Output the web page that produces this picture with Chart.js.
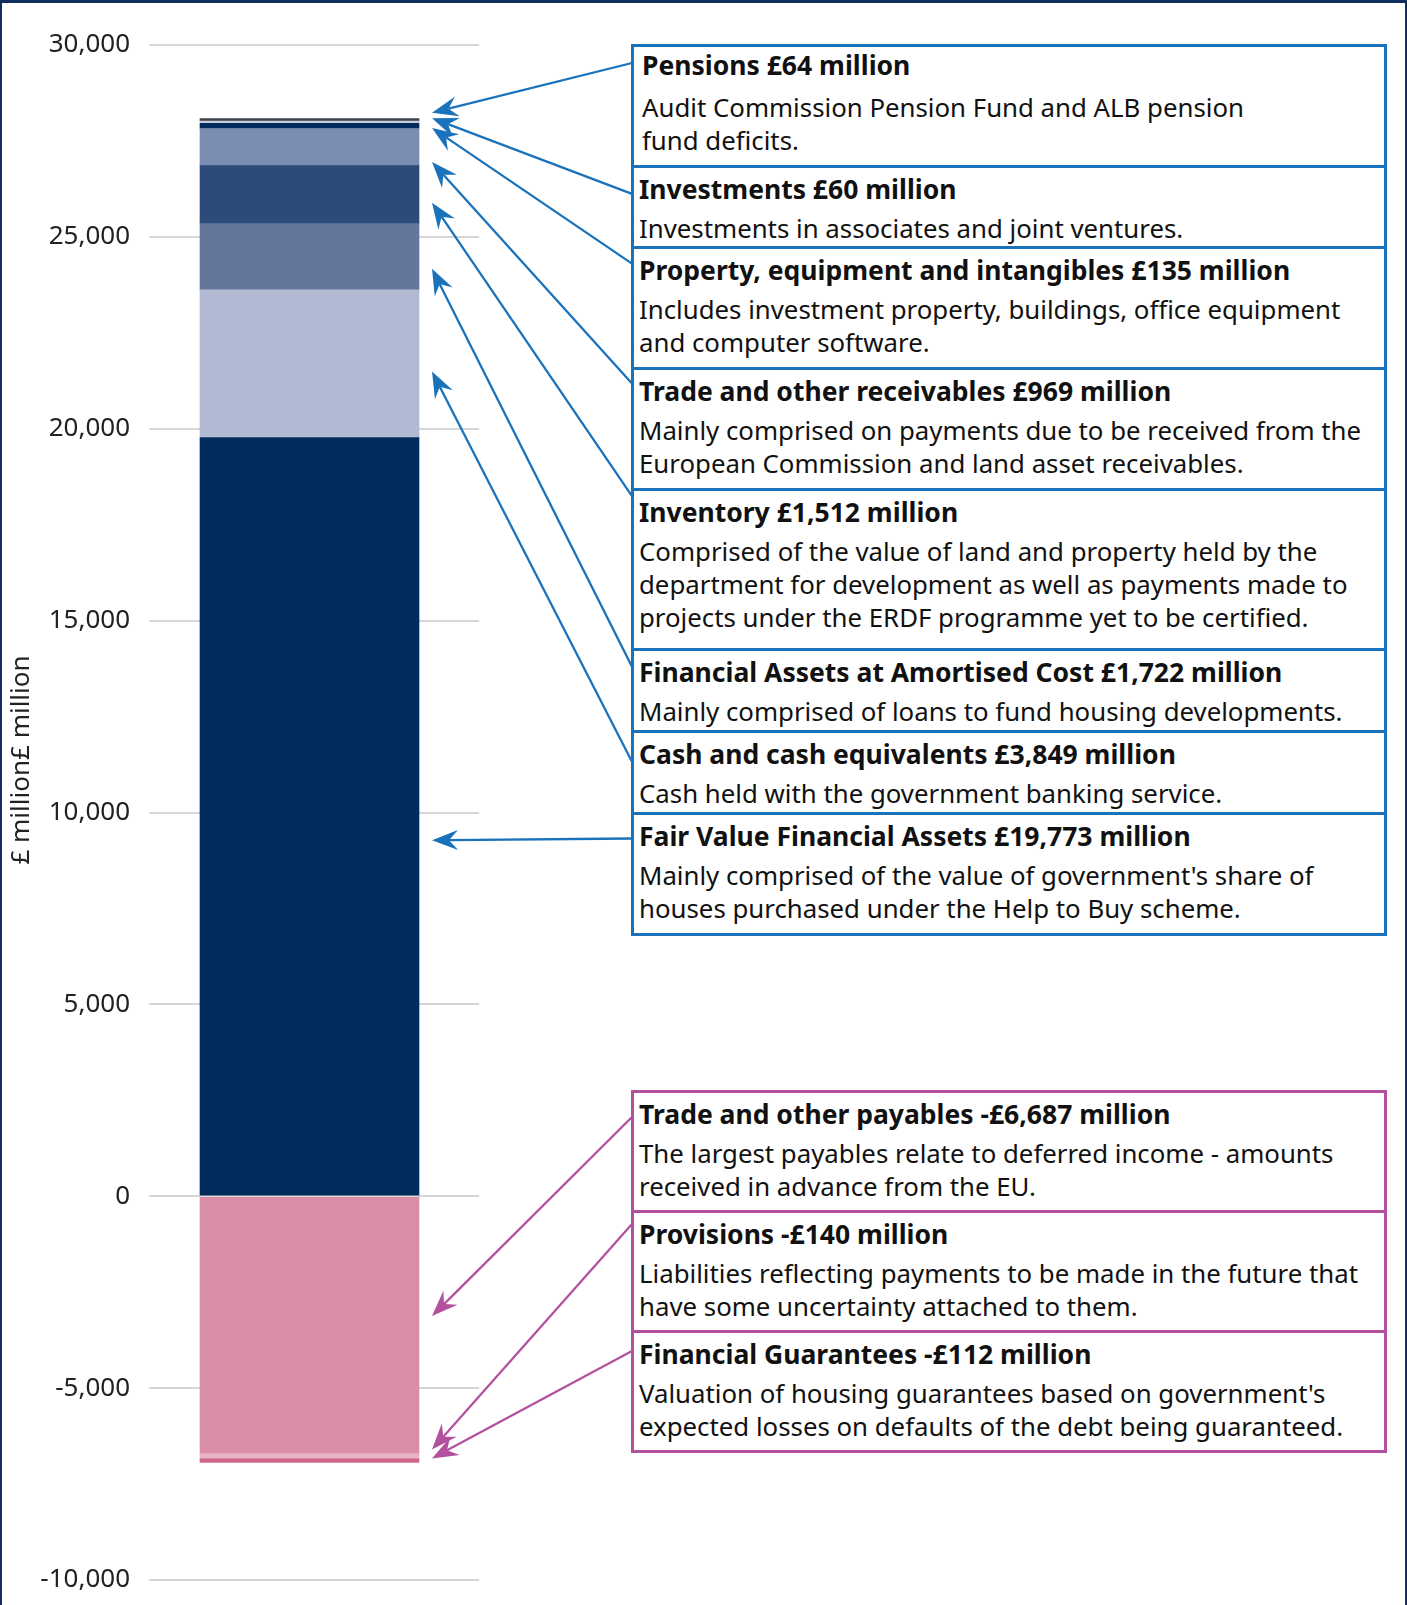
<!DOCTYPE html>
<html>
<head>
<meta charset="utf-8">
<script src="https://cdn.jsdelivr.net/npm/chart.js@4.4.1/dist/chart.umd.min.js"></script>
<style>
    html, body { margin: 0; padding: 0; background: #fff; }
    #wrap { position: relative; width: 1407px; height: 1605px; overflow: hidden; font-family: "Noto Sans", sans-serif; }
    #chart { position: absolute; left: 0; top: 0; }
    #frame { position: absolute; left: 0; top: 0; width: 1407px; height: 1605px; box-sizing: border-box;
             border: solid #102e5e; border-width: 3px 2px 0 2px; pointer-events: none; }
    .box { position: absolute; left: 631px; width: 756px; box-sizing: border-box; border: 3px solid;
           padding: 5px 4px 0 5px; color: #111; white-space: nowrap; background: #fff; }
    .box .t { font-weight: 700; font-size: 26.5px; line-height: 33px; margin-bottom: 6px; }
    .box .d { font-size: 25.8px; line-height: 33px; }
    .box.first { padding-top: 2px; padding-left: 8px; }
    .box.first .t { margin-bottom: 9px; }
</style>
</head>
<body>
<div id="wrap">
    <canvas id="chart" width="1407" height="1605"></canvas>
    <div id="boxes"></div>
    <div id="frame"></div>
</div>
<script>
// --- DATA (£ million) ---
const assetNames = ['Fair Value Financial Assets', 'Cash and cash equivalents', 'Financial Assets at Amortised Cost',
    'Inventory', 'Trade and other receivables', 'Property, equipment and intangibles', 'Investments', 'Pensions'];
const assetValues = [19773, 3849, 1722, 1512, 969, 135, 60, 64];
const liabilityNames = ['Trade and other payables', 'Provisions', 'Financial Guarantees'];
const liabilityValues = [-6687, -140, -112];
const yTicks = [-10000, -5000, 0, 5000, 10000, 15000, 20000, 25000, 30000];
const yTitle = '£ million£ million';

const assetNotes = [
    ["Mainly comprised of the value of government's share of", 'houses purchased under the Help to Buy scheme.'],
    ['Cash held with the government banking service.'],
    ['Mainly comprised of loans to fund housing developments.'],
    ['Comprised of the value of land and property held by the', 'department for development as well as payments made to', 'projects under the ERDF programme yet to be certified.'],
    ['Mainly comprised on payments due to be received from the', 'European Commission and land asset receivables.'],
    ['Includes investment property, buildings, office equipment', 'and computer software.'],
    ['Investments in associates and joint ventures.'],
    ['Audit Commission Pension Fund and ALB pension', 'fund deficits.']
];
const liabilityNotes = [
    ['The largest payables relate to deferred income - amounts', 'received in advance from the EU.'],
    ['Liabilities reflecting payments to be made in the future that', 'have some uncertainty attached to them.'],
    ["Valuation of housing guarantees based on government's", 'expected losses on defaults of the debt being guaranteed.']
];

// --- ESTILO / LAYOUT ---
const assetColors = ['#002b5c', '#b1b9d3', '#64769b', '#2c4b78', '#7a8caf', '#00295c', '#c6cbd7', '#3c424d'];
const liabilityColors = ['#d98ea5', '#e8b4c4', '#cf668c'];
const BLUE = '#1a72bb';
const PINK = '#b4519e';
const BOX_LEFT = 632;
const ARROW_GAP = 13;

// caixas de cima pra baixo: [dataset, topo, inicio da seta (dy), ajuste da ponta (dy)]
const blueBoxes = [
    [7, 45, 18, -7], [6, 166.8, 27, -4], [5, 247.6, 16, 2], [4, 368.4, 15, 15],
    [3, 489.1, 7, 8], [2, 649.8, 17, 12], [1, 731.7, 30, 8], [0, 813.5, 25, 24]
];
const blueEnd = 934.3;
const pinkBoxes = [[8, 1091, 26, -9], [9, 1211, 13, -6], [10, 1331, 20, -2]];
const pinkEnd = 1451;

const fmtMoney = v => (v < 0 ? '-' : '') + '£' + Math.abs(v).toLocaleString('en-GB') + ' million';

const datasets = [];
assetNames.forEach((n, i) => datasets.push({ label: n, data: [{ x: 0, y: assetValues[i] }], backgroundColor: assetColors[i], note: assetNotes[i] }));
liabilityNames.forEach((n, i) => datasets.push({ label: n, data: [{ x: 0, y: liabilityValues[i] }], backgroundColor: liabilityColors[i], note: liabilityNotes[i] }));

function montarCaixas(lista, fim, cor) {
    const host = document.getElementById('boxes');
    lista.forEach((b, i) => {
        const ds = datasets[b[0]];
        const proximo = i < lista.length - 1 ? lista[i + 1][1] : fim;
        const div = document.createElement('div');
        div.className = 'box' + (b[0] === 7 ? ' first' : '');
        div.style.borderColor = cor;
        div.style.top = (b[1] - 1.5) + 'px';
        div.style.height = (proximo - b[1] + 3) + 'px';
        div.innerHTML = '<div class="t">' + ds.label + ' ' + fmtMoney(ds.data[0].y) + '</div>' +
            '<div class="d">' + ds.note.join('<br>') + '</div>';
        host.appendChild(div);
    });
}
montarCaixas(blueBoxes, blueEnd, BLUE);
montarCaixas(pinkBoxes, pinkEnd, PINK);

function desenharSeta(ctx, x1, y1, x2, y2, cor) {
    const ang = Math.atan2(y2 - y1, x2 - x1);
    const c = Math.cos(ang), s = Math.sin(ang);
    const len = 26, half = 10, notch = 17;
    ctx.strokeStyle = cor;
    ctx.fillStyle = cor;
    ctx.lineWidth = 2.3;
    ctx.beginPath();
    ctx.moveTo(x1, y1);
    ctx.lineTo(x2 - notch * c, y2 - notch * s);
    ctx.stroke();
    ctx.beginPath();
    ctx.moveTo(x2, y2);
    ctx.lineTo(x2 - len * c + half * s, y2 - len * s - half * c);
    ctx.lineTo(x2 - notch * c, y2 - notch * s);
    ctx.lineTo(x2 - len * c - half * s, y2 - len * s + half * c);
    ctx.closePath();
    ctx.fill();
}

const calloutPlugin = {
    id: 'callouts',
    afterDatasetsDraw(chart) {
        const ctx = chart.ctx;
        ctx.save();
        const grupos = [[blueBoxes, BLUE], [pinkBoxes, PINK]];
        grupos.forEach(([lista, cor]) => {
            lista.forEach(b => {
                const el = chart.getDatasetMeta(b[0]).data[0];
                const x2 = el.x + el.width / 2 + ARROW_GAP;
                const y2 = (el.y + el.base) / 2 + b[3];
                desenharSeta(ctx, BOX_LEFT, b[1] + b[2], x2, y2, cor);
            });
        });
        ctx.translate(22, 760);
        ctx.rotate(-Math.PI / 2);
        ctx.font = '26px "Noto Sans"';
        ctx.fillStyle = '#222';
        ctx.textAlign = 'center';
        ctx.textBaseline = 'middle';
        ctx.fillText(yTitle, 0, 0);
        ctx.restore();
    }
};

new Chart(document.getElementById('chart').getContext('2d'), {
    type: 'bar',
    data: { datasets: datasets },
    options: {
        responsive: false,
        animation: false,
        devicePixelRatio: 1,
        layout: { padding: { top: 45, bottom: 25, left: 0, right: 928 } },
        plugins: { legend: { display: false }, tooltip: { enabled: false } },
        datasets: { bar: { barThickness: 219, borderWidth: 0 } },
        scales: {
            // barra um pouco à esquerda do centro da área, como no original
            x: { type: 'linear', stacked: true, display: false, min: -0.483, max: 0.517 },
            y: {
                stacked: true,
                min: yTicks[0],
                max: yTicks[yTicks.length - 1],
                afterFit: s => { s.width = 149; s.paddingTop = 0; s.paddingBottom = 0; },
                afterBuildTicks: s => { s.ticks = yTicks.map(v => ({ value: v })); },
                border: { display: false },
                grid: { color: '#d6d6d6', lineWidth: 2, drawTicks: false },
                ticks: {
                    padding: 19,
                    color: '#222',
                    font: { family: 'Noto Sans', size: 26 },
                    callback: v => v.toLocaleString('en-GB')
                }
            }
        }
    },
    plugins: [calloutPlugin]
});
</script>
</body>
</html>
